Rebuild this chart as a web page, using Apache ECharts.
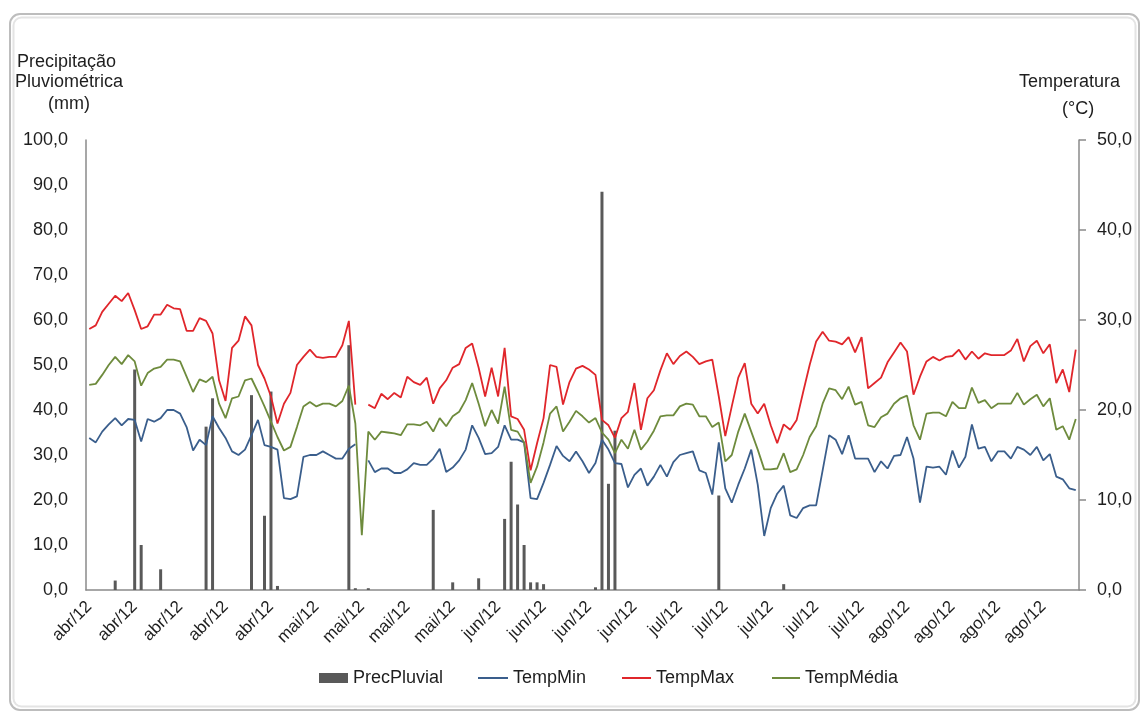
<!DOCTYPE html>
<html>
<head>
<meta charset="utf-8">
<script src="https://cdn.jsdelivr.net/npm/echarts@6/dist/echarts.min.js"></script>
<style>
html,body{margin:0;padding:0;background:#ffffff;}
#chart{width:1144px;height:711px;}
</style>
</head>
<body>
<div id="chart"></div>
<script>
// ---- Data ----
const months = ['abr/12', 'mai/12', 'jun/12', 'jul/12', 'ago/12'];
const monthDays = [30, 31, 30, 31, 31];

const precLabels = [0, 10, 20, 30, 40, 50, 60, 70, 80, 90, 100];
const tempLabels = [0, 10, 20, 30, 40, 50];

const precPluvial = [
  0, 0, 0, 0, 2.1, 0, 0, 49.0, 10.0, 0,
  0, 4.6, 0, 0, 0, 0, 0, 0, 36.3, 42.6,
  0, 0, 0, 0, 0, 43.3, 0, 16.5, 44.1, 0.9,
  0, 0, 0, 0, 0, 0, 0, 0, 0, 0,
  54.4, 0.4, 0, 0.4, 0, 0, 0, 0, 0, 0,
  0, 0, 0, 17.8, 0, 0, 1.7, 0, 0, 0,
  2.6, 0, 0, 0, 15.8, 28.5, 19.0, 10.0, 1.7, 1.7,
  1.3, 0, 0, 0, 0, 0, 0, 0, 0.6, 88.5,
  23.6, 35.4, 0, 0, 0, 0, 0, 0, 0, 0,
  0, 0, 0, 0, 0, 0, 0, 21.0, 0, 0,
  0, 0, 0, 0, 0, 0, 0, 1.3, 0, 0,
  0, 0, 0, 0, 0, 0, 0, 0, 0, 0,
  0, 0, 0, 0, 0, 0, 0, 0, 0, 0,
  0, 0, 0, 0, 0, 0, 0, 0, 0, 0,
  0, 0, 0, 0, 0, 0, 0, 0, 0, 0,
  0, 0, 0
];

const tempMin = [
  16.9, 16.4, 17.6, 18.4, 19.1, 18.3, 19.0, 18.9, 16.5, 19.0,
  18.7, 19.1, 20.0, 20.0, 19.6, 18.1, 15.5, 16.7, 16.1, 19.3,
  18.0, 16.9, 15.4, 15.0, 15.6, 17.2, 18.9, 16.1, 15.9, 15.6,
  10.2, 10.1, 10.4, 14.8, 15.0, 15.0, 15.4, 15.0, 14.6, 14.6,
  15.7, 16.2, null, 14.4, 13.1, 13.5, 13.5, 13.0, 13.0, 13.4,
  14.1, 13.9, 13.9, 14.6, 15.7, 13.1, 13.6, 14.4, 15.6, 18.3,
  16.9, 15.1, 15.2, 15.9, 18.3, 16.7, 16.7, 16.4, 10.2, 10.1,
  11.9, 13.9, 16.0, 14.9, 14.3, 15.4, 14.3, 13.0, 14.1, 16.7,
  15.6, 14.1, 14.0, 11.4, 12.8, 13.5, 11.6, 12.6, 13.9, 12.6,
  14.2, 15.0, 15.2, 15.4, 13.3, 13.0, 10.6, 16.4, 11.3, 9.7,
  11.7, 13.5, 15.6, 11.7, 6.0, 9.1, 10.7, 11.6, 8.3, 8.0,
  9.1, 9.4, 9.4, 13.3, 17.2, 16.7, 15.1, 17.2, 14.6, 14.6,
  14.6, 13.1, 14.3, 13.5, 14.9, 15.0, 17.0, 14.6, 9.7, 13.7,
  13.6, 13.7, 12.8, 15.5, 13.6, 14.8, 18.4, 15.7, 15.9, 14.3,
  15.4, 15.4, 14.6, 15.9, 15.6, 15.0, 15.9, 14.4, 15.1, 12.6,
  12.3, 11.3, 11.1
];

const tempMax = [
  29.0, 29.4, 30.9, 31.8, 32.7, 32.1, 33.0, 31.1, 29.0, 29.3,
  30.6, 30.6, 31.7, 31.3, 31.2, 28.8, 28.8, 30.2, 29.9, 28.5,
  23.3, 21.0, 26.9, 27.7, 30.4, 29.4, 25.0, 23.5, 21.5, 18.5,
  20.7, 21.9, 25.0, 25.9, 26.7, 25.9, 25.8, 25.9, 25.9, 27.2,
  29.9, 20.6, null, 20.6, 20.2, 21.8, 21.2, 21.9, 21.4, 23.7,
  23.1, 22.8, 23.6, 20.7, 22.4, 23.3, 24.7, 25.1, 26.9, 27.4,
  24.7, 21.5, 24.7, 21.5, 26.9, 19.3, 19.0, 17.8, 13.3, 16.3,
  19.1, 25.0, 24.8, 20.6, 23.1, 24.6, 24.9, 24.5, 23.9, 18.9,
  18.3, 16.9, 19.1, 19.8, 23.0, 17.8, 21.3, 22.2, 24.4, 26.3,
  25.1, 26.0, 26.5, 25.9, 25.1, 25.4, 25.6, 21.5, 17.1, 20.4,
  23.6, 25.2, 20.7, 19.6, 20.7, 18.3, 16.3, 18.4, 17.8, 18.9,
  22.0, 25.0, 27.6, 28.7, 27.7, 27.6, 27.3, 28.1, 26.4, 28.1,
  22.4, 23.0, 23.6, 25.3, 26.4, 27.5, 26.5, 21.7, 23.7, 25.4,
  25.9, 25.5, 25.9, 26.0, 26.7, 25.6, 26.5, 25.7, 26.3, 26.1,
  26.1, 26.1, 26.6, 27.9, 25.4, 27.1, 27.7, 26.3, 27.3, 23.0,
  24.5, 22.0, 26.7
];

const tempMedia = [
  22.8, 22.9, 23.9, 25.0, 25.9, 25.1, 26.1, 25.4, 22.7, 24.1,
  24.6, 24.8, 25.6, 25.6, 25.4, 23.7, 22.0, 23.4, 23.1, 23.7,
  20.7, 19.1, 21.3, 21.5, 23.3, 23.5, 22.0, 20.4, 18.7, 17.0,
  15.5, 15.9, 18.1, 20.4, 20.9, 20.4, 20.7, 20.7, 20.4, 21.0,
  22.7, 18.5, 6.1, 17.6, 16.7, 17.6, 17.5, 17.4, 17.2, 18.4,
  18.4, 18.3, 18.7, 17.6, 19.1, 18.2, 19.3, 19.8, 21.1, 23.0,
  20.7, 18.2, 20.0, 18.5, 22.6, 17.8, 17.6, 16.4, 11.9, 13.7,
  16.4, 19.6, 20.4, 17.6, 18.7, 19.9, 19.3, 18.6, 19.1, 17.5,
  16.7, 15.2, 16.7, 15.7, 17.8, 15.6, 16.5, 17.7, 19.3, 19.4,
  19.4, 20.4, 20.7, 20.6, 19.3, 19.3, 18.1, 18.6, 14.3, 15.0,
  17.6, 19.6, 17.6, 15.6, 13.4, 13.4, 13.5, 15.2, 13.1, 13.4,
  15.0, 17.0, 18.2, 20.7, 22.4, 22.2, 21.2, 22.6, 20.6, 20.9,
  18.3, 18.1, 19.2, 19.6, 20.7, 21.3, 21.6, 18.3, 16.7, 19.6,
  19.7, 19.7, 19.3, 20.9, 20.2, 20.2, 22.5, 20.8, 21.1, 20.2,
  20.7, 20.7, 20.7, 21.9, 20.6, 21.2, 21.7, 20.4, 21.3, 17.8,
  18.2, 16.7, 19.0
];

// categories: one per day, labelled by month
const categories = [];
months.forEach(function (m, k) {
  for (let d = 1; d <= monthDays[k]; d++) {
    categories.push((d < 10 ? '0' : '') + d + '/' + m);
  }
});

const FONT = '"Liberation Sans", Arial, sans-serif';
const TXT = '#1e1e1e';
const AXIS = '#8a8a8a';
const fmt = function (v) { return v.toFixed(1).replace('.', ','); };

const chart = echarts.init(document.getElementById('chart'), null, {renderer: 'canvas'});

const legendBase = {
  top: 669,
  padding: 0,
  itemGap: 0,
  textStyle: {fontFamily: FONT, fontSize: 18, color: TXT},
  selectedMode: false
};

chart.setOption({
  animation: false,
  backgroundColor: '#ffffff',
  textStyle: {fontFamily: FONT},
  grid: {left: 86, right: 65, top: 140, bottom: 121, containLabel: false},
  graphic: [
    {type: 'rect', silent: true, shape: {x: 10, y: 14, width: 1129, height: 696, r: 10},
      style: {fill: 'none', stroke: '#bdbdbd', lineWidth: 2}},
    {type: 'rect', silent: true, shape: {x: 13.5, y: 17.5, width: 1122, height: 689, r: 8},
      style: {fill: 'none', stroke: '#e4e4e4', lineWidth: 2}},
    {type: 'text', left: 17, top: 53, style: {text: 'Precipitação', fontFamily: FONT, fontSize: 18, fill: TXT}},
    {type: 'text', left: 15, top: 73, style: {text: 'Pluviométrica', fontFamily: FONT, fontSize: 18, fill: TXT}},
    {type: 'text', left: 48, top: 95, style: {text: '(mm)', fontFamily: FONT, fontSize: 18, fill: TXT}},
    {type: 'text', left: 1019, top: 73, style: {text: 'Temperatura', fontFamily: FONT, fontSize: 18, fill: TXT}},
    {type: 'text', left: 1062, top: 100, style: {text: '(°C)', fontFamily: FONT, fontSize: 18, fill: TXT}}
  ],
  legend: [
    Object.assign({}, legendBase, {left: 319, itemWidth: 29, itemHeight: 10,
      data: [{name: 'PrecPluvial', icon: 'rect'}]}),
    Object.assign({}, legendBase, {left: 478, itemWidth: 30, itemHeight: 2, top: 669,
      data: [{name: 'TempMin', icon: 'rect'}]}),
    Object.assign({}, legendBase, {left: 622, itemWidth: 29, itemHeight: 2,
      data: [{name: 'TempMax', icon: 'rect'}]}),
    Object.assign({}, legendBase, {left: 772, itemWidth: 28, itemHeight: 2,
      data: [{name: 'TempMédia', icon: 'rect'}]})
  ],
  xAxis: {
    type: 'category',
    data: categories,
    boundaryGap: true,
    axisLine: {show: true, lineStyle: {color: AXIS, width: 1.5}},
    axisTick: {show: false},
    axisLabel: {
      interval: 6,
      rotate: 45,
      margin: 14,
      fontFamily: FONT,
      fontSize: 17,
      color: TXT,
      formatter: function (v) { return v.slice(3); }
    },
    splitLine: {show: false}
  },
  yAxis: [
    {
      type: 'value',
      min: precLabels[0],
      max: precLabels[precLabels.length - 1],
      interval: precLabels[1] - precLabels[0],
      position: 'left',
      axisLine: {show: true, lineStyle: {color: AXIS, width: 1.5}},
      axisTick: {show: false},
      splitLine: {show: false},
      axisLabel: {margin: 18, fontFamily: FONT, fontSize: 18, color: TXT, formatter: fmt}
    },
    {
      type: 'value',
      min: tempLabels[0],
      max: tempLabels[tempLabels.length - 1],
      interval: tempLabels[1] - tempLabels[0],
      position: 'right',
      axisLine: {show: true, lineStyle: {color: AXIS, width: 1.5}},
      axisTick: {show: true, length: 7, lineStyle: {color: AXIS, width: 1.5}},
      splitLine: {show: false},
      axisLabel: {margin: 18, fontFamily: FONT, fontSize: 18, color: TXT, formatter: fmt}
    }
  ],
  series: [
    {
      name: 'PrecPluvial',
      type: 'bar',
      yAxisIndex: 0,
      data: precPluvial,
      barWidth: 3,
      itemStyle: {color: '#595959'}
    },
    {
      name: 'TempMin',
      type: 'line',
      yAxisIndex: 1,
      data: tempMin,
      symbol: 'none',
      connectNulls: false,
      lineStyle: {color: '#3A5E8C', width: 1.8},
      itemStyle: {color: '#3A5E8C'}
    },
    {
      name: 'TempMax',
      type: 'line',
      yAxisIndex: 1,
      data: tempMax,
      symbol: 'none',
      connectNulls: false,
      lineStyle: {color: '#E0262B', width: 1.8},
      itemStyle: {color: '#E0262B'}
    },
    {
      name: 'TempMédia',
      type: 'line',
      yAxisIndex: 1,
      data: tempMedia,
      symbol: 'none',
      connectNulls: false,
      lineStyle: {color: '#6E8B3D', width: 1.8},
      itemStyle: {color: '#6E8B3D'}
    }
  ]
});
</script>
</body>
</html>
